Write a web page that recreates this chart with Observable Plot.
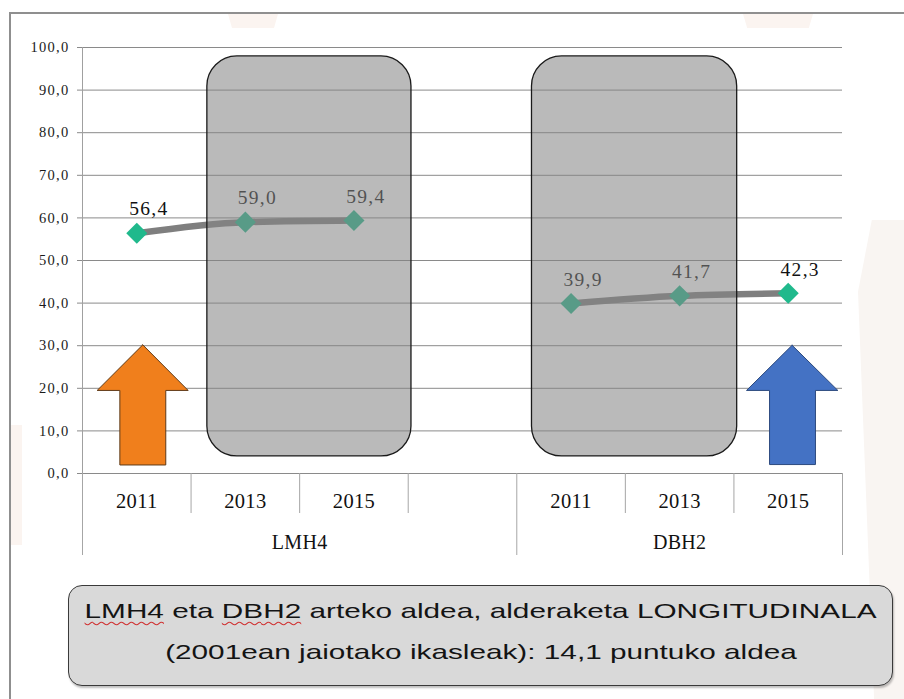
<!DOCTYPE html>
<html>
<head>
<meta charset="utf-8">
<script src="https://cdn.jsdelivr.net/npm/d3@7"></script>
<script src="https://cdn.jsdelivr.net/npm/@observablehq/plot@0.6"></script>
<style>
  html, body { margin: 0; padding: 0; background: #fff; }
  #page { position: relative; width: 904px; height: 699px; overflow: hidden; background: #fff; }
  #frame { position: absolute; left: 9px; top: 12px; right: -4px; bottom: -4px;
           border-top: 2px solid #8f8f8f; border-left: 2px solid #8f8f8f; }
  .wm { position: absolute; background: #fbf4f0; }
  #chart { position: absolute; left: 0; top: 0; }
  #chart svg text { letter-spacing: 1.3px; }
  #chart svg g[font-size="20.5"] text, #chart svg g[font-size="20"] text { letter-spacing: 0.3px; }
  #note { position: absolute; left: 68px; top: 585px; width: 825px; height: 101px;
          box-sizing: border-box; border: 1.5px solid #3a3a3a; border-radius: 14px;
          background: #d9d9d9; box-shadow: 1px 2px 2px rgba(0,0,0,0.25);
          font-family: "Liberation Sans", Arial, sans-serif; font-size: 21px; color: #141414; }
  #note .ln { position: absolute; left: 0; width: 100%; text-align: center; white-space: nowrap; }
  #note .ln span.inner { display: inline-block; transform-origin: center; }
  .sp { text-decoration: underline wavy #d03030; text-decoration-thickness: 1px; text-underline-offset: 3px; }
</style>
</head>
<body>
<div id="page">
  <div class="wm" style="left:228px; top:14px; width:50px; height:14px; clip-path: polygon(0 0,100% 0,92% 100%,8% 100%);"></div>
  <div class="wm" style="left:743px; top:14px; width:70px; height:14px; clip-path: polygon(0 0,100% 0,94% 100%,6% 100%);"></div>
  <div class="wm" style="left:11px; top:425px; width:11px; height:120px;"></div>
  <div class="wm" style="left:858px; top:220px; width:46px; height:479px; background:#f9f5f2; clip-path: polygon(30% 0,100% 0,100% 100%,35% 100%,0 15%);"></div>
  <div id="frame"></div>
  <div id="chart"></div>
  <div id="note">
    <div class="ln" style="top:13px"><span class="inner" id="l1"><span class="sp">LMH4</span> eta <span class="sp">DBH2</span> arteko aldea, alderaketa LONGITUDINALA</span></div>
    <div class="ln" style="top:54px"><span class="inner" id="l2">(2001ean jaiotako ikasleak): 14,1 puntuko aldea</span></div>
  </div>
</div>
<script>
// ---- data ----
const groups = ["LMH4", "DBH2"];
const groupStart = [0, 4];      // first slot of each group
const groupSlots = [4, 3];      // slots per group (LMH4 has an empty 4th slot)
const years = ["2011", "2013", "2015"];
const lmh4Values = [56.4, 59.0, 59.4];
const dbh2Values = [39.9, 41.7, 42.3];
const yTicks = [0, 10, 20, 30, 40, 50, 60, 70, 80, 90, 100];

// highlight boxes (in slot / value units)
const boxX1 = [1.15, 4.14];
const boxX2 = [3.03, 6.03];
const boxY1 = [4.0, 4.0];
const boxY2 = [97.9, 97.9];

// arrows outline (slot, value)
const orangeArrow = [[0.555, 30.2], [0.973, 19.5], [0.767, 19.5], [0.767, 2.0], [0.344, 2.0], [0.344, 19.5], [0.135, 19.5], [0.555, 30.2]];
const blueArrow = [[6.536, 30.1], [6.957, 19.5], [6.751, 19.5], [6.751, 2.1], [6.328, 2.1], [6.328, 19.5], [6.116, 19.5], [6.536, 30.1]];

// ---- table ----
const seriesValues = [lmh4Values, dbh2Values];
const rows = [];
groups.forEach((g, gi) => years.forEach((yr, i) => rows.push({
  group: g, year: yr, value: seriesValues[gi][i], x: groupStart[gi] + i + 0.5
})));
const groupRows = groups.map((g, gi) => ({group: g, x: groupStart[gi] + groupSlots[gi] / 2}));
const boxes = boxX1.map((d, i) => ({x1: d, x2: boxX2[i], y1: boxY1[i], y2: boxY2[i]}));
const innerTicks = [1, 2, 3, 5, 6];
const groupTicks = [0, 4, 7];
const fmt = d => d.toFixed(1).replace(".", ",");

const chart = Plot.plot({
  width: 904,
  height: 570,
  marginLeft: 82,
  marginRight: 62,
  marginTop: 47,
  marginBottom: 97,
  style: {fontFamily: "'Liberation Serif', 'Times New Roman', serif", background: "transparent", color: "#1a1a1a"},
  x: {type: "linear", domain: [0, 7], axis: null},
  y: {domain: [0, 100], axis: null},
  marks: [
    Plot.ruleY(yTicks, {stroke: "#8a8a8a", strokeWidth: 1}),
    Plot.ruleX([0], {stroke: "#a0a0a0"}),
    Plot.axisY(yTicks, {tickSize: 5, tickPadding: 8, tickFormat: fmt, fontSize: 14.5, stroke: "#8a8a8a"}),
    Plot.axisX(innerTicks, {tickSize: 40, tickFormat: () => "", stroke: "#a6a6a6"}),
    Plot.axisX(groupTicks, {tickSize: 82, tickFormat: () => "", stroke: "#a6a6a6"}),
    Plot.text(rows, {x: "x", y: 0, text: "year", dy: 28, fontSize: 20.5, fill: "#111"}),
    Plot.text(groupRows, {x: "x", y: 0, text: "group", dy: 69, fontSize: 20, fill: "#111"}),
    Plot.line(rows, {x: "x", y: "value", z: "group", stroke: "#7f7f7f", strokeWidth: 6.5, curve: "monotone-x"}),
    Plot.dot(rows, {x: "x", y: "value", symbol: "diamond2", r: 9.5, fill: "#20b98c", stroke: "none"}),
    Plot.text(rows, {x: "x", y: "value", text: d => fmt(d.value), dx: 12, dy: -24, fontSize: 19.5, fill: "#111"}),
    Plot.rect(boxes, {x1: "x1", x2: "x2", y1: "y1", y2: "y2", rx: 30, fill: "#848484", fillOpacity: 0.56, stroke: "#1a1a1a", strokeWidth: 1.3}),
    Plot.line(orangeArrow, {x: d => d[0], y: d => d[1], fill: "#f07f1c", stroke: "#5e3a18", strokeWidth: 1, curve: "linear"}),
    Plot.line(blueArrow, {x: d => d[0], y: d => d[1], fill: "#4472c4", stroke: "#2d4a7e", strokeWidth: 1, curve: "linear"})
  ]
});
document.getElementById("chart").appendChild(chart);

// stretch the note text horizontally like the original slide
const l1 = document.getElementById("l1"), l2 = document.getElementById("l2");
const s = 792 / l1.getBoundingClientRect().width;
l1.style.transform = `scaleX(${s})`;
l2.style.transform = `scaleX(${s})`;
</script>
</body>
</html>
